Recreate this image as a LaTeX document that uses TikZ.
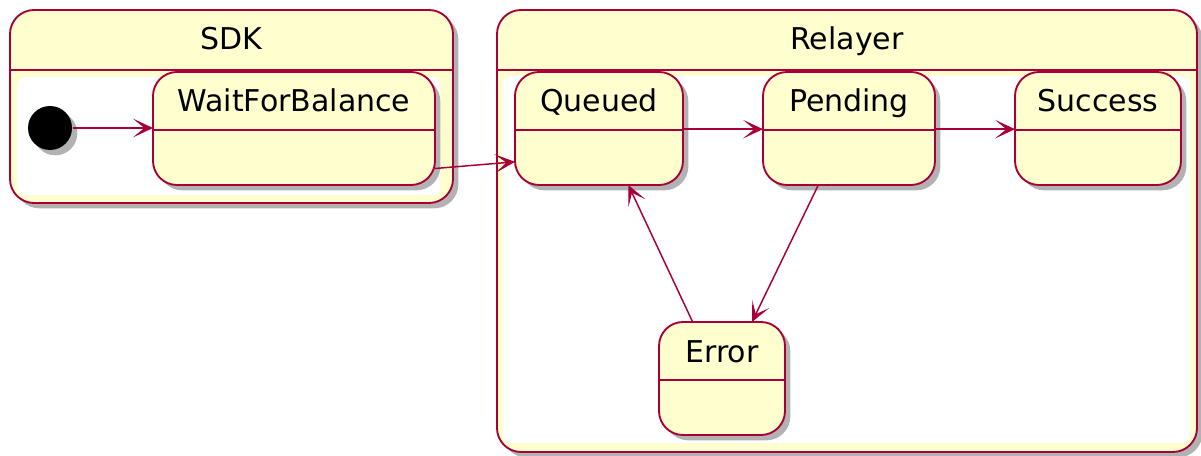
\documentclass[tikz,border=0pt]{standalone}
\usepackage{fontspec}
\setmainfont{DejaVu Sans}
\usetikzlibrary{arrows.meta,shadows}

\definecolor{umlred}{HTML}{A80036}
\definecolor{umlfill}{HTML}{FEFECE}

\tikzset{every picture/.style={line width=1.4pt}}
\tikzset{
  umlshadow/.style={drop shadow={shadow xshift=4pt,shadow yshift=-4pt,fill=black!60,opacity=.5}},
  statebox/.style={draw=umlred, fill=umlfill, umlshadow, rounded corners=18pt, inner sep=0pt, outer sep=0pt,
    font=\fontsize{22.5}{27}\selectfont, text height=0pt, text depth=24.75pt,
    path picture={\draw[umlred] ([yshift=-1pt]path picture bounding box.west) -- ([yshift=-1pt]path picture bounding box.east);}},
  compbox/.style={draw=umlred, fill=umlfill, umlshadow, rounded corners=18pt, inner sep=0pt, outer sep=0pt,
    font=\fontsize{22.5}{27}\selectfont, text height=0pt,
    path picture={\draw[umlred] ([yshift=-45pt]path picture bounding box.north west) -- ([yshift=-45pt]path picture bounding box.north east);}},
  initdot/.style={circle, fill=black, umlshadow, minimum size=33pt, inner sep=0pt},
  trans/.style={draw=umlred, line width=1.1pt, -{Stealth[length=15pt,width=14pt,inset=8.5pt]}}
}

\begin{document}
\begin{tikzpicture}[x=0.75pt,y=0.75pt,yscale=-1,xscale=1]
		\useasboundingbox (0,0) rectangle (1201,456);

		%Composite states
		\node[compbox, minimum width=332.25pt, minimum height=144.75pt, text depth=84.75pt] (sdk) at (231.5,106.5) {SDK};
		\node[compbox, minimum width=525pt, minimum height=331.5pt, text depth=271.5pt] (relayer) at (847,231) {Relayer};
		%Inner areas
		\fill[white, rounded corners=6pt] (17,77) rectangle (440,195);
		\fill[white, rounded corners=6pt] (503,76) rectangle (1190,443);

		%Initial state
		\node[initdot] (init) at (50,128) {};
		%States
		\node[statebox, minimum width=211.5pt, minimum height=84.75pt] (wait) at (294,128.5) {WaitForBalance};
		\node[statebox, minimum width=126pt, minimum height=84.75pt] (queued) at (599,128.5) {Queued};
		\node[statebox, minimum width=129pt, minimum height=84.75pt] (pending) at (849,128.5) {Pending};
		\node[statebox, minimum width=124.5pt, minimum height=84.75pt] (success) at (1098,128.5) {Success};
		\node[statebox, minimum width=94.5pt, minimum height=84.75pt] (error) at (722,378.5) {Error};

		%Transitions
		\draw[trans] (init) -- (wait.west |- init);
		\draw[trans] ([yshift=30pt]wait.east) -- ([yshift=25pt]queued.west);
		\draw[trans] ([yshift=0.5pt]queued.east) -- ([yshift=0.5pt]pending.west);
		\draw[trans] ([yshift=0.5pt]pending.east) -- ([yshift=0.5pt]success.west);
		\draw[trans] ([xshift=-23pt]pending.south) -- ([xshift=22.5pt]error.north);
		\draw[trans] ([xshift=-22pt]error.north) -- ([xshift=22pt]queued.south);

\end{tikzpicture}
\end{document}
